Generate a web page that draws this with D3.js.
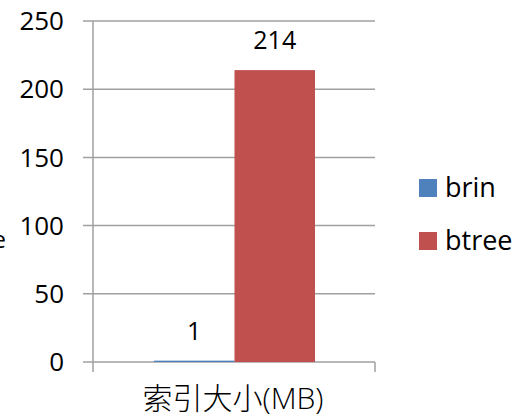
<!DOCTYPE html>
<html>
<head>
<meta charset="utf-8">
<script src="https://cdn.jsdelivr.net/npm/d3@7"></script>
<style>
  body { margin: 0; background: #fff; }
  text { font-family: "Open Sans", "Noto Sans CJK SC", sans-serif; fill: #000; }
</style>
</head>
<body>
<svg id="chart"></svg>
<script>
const categories = ["索引大小(MB)"];
const seriesNames = ["brin", "btree"];
const brinValues = [1];
const btreeValues = [214];
const yTicks = [0, 50, 100, 150, 200, 250];
const colors = ["#4F81BD", "#C0504D"];

const width = 516, height = 419;
const svg = d3.select("#chart").attr("width", width).attr("height", height);

const y = d3.scaleLinear().domain([0, 250]).range([362, 21]);
const x = d3.scaleBand().domain(categories).range([93, 375]);
// bars occupy the middle of the category, gap on each side
const xInner = d3.scaleBand().domain(seriesNames)
  .range([154 - 93, 315 - 93]);

const grid = svg.append("g");
grid.selectAll("line")
  .data(yTicks)
  .enter().append("line")
  .attr("x1", 83).attr("x2", 375)
  .attr("y1", d => y(d)).attr("y2", d => y(d))
  .attr("stroke", "#a0a0a0").attr("stroke-width", 1.5);

// y axis line
svg.append("line")
  .attr("x1", 93).attr("x2", 93).attr("y1", y(250)).attr("y2", 372)
  .attr("stroke", "#a0a0a0").attr("stroke-width", 1.5);
// x category boundary tick
svg.append("line")
  .attr("x1", 375).attr("x2", 375).attr("y1", y(0)).attr("y2", 372)
  .attr("stroke", "#a0a0a0").attr("stroke-width", 1.5);

svg.append("g").selectAll("text")
  .data(yTicks)
  .enter().append("text")
  .attr("x", 64).attr("y", d => y(d))
  .attr("dy", "0.35em")
  .attr("text-anchor", "end")
  .attr("font-size", 26)
  .text(d => d);

const rows = seriesNames.map((s, i) => ({
  name: s,
  value: [brinValues, btreeValues][i][0],
  color: colors[i],
  cat: categories[0]
}));

const bars = svg.append("g");
bars.selectAll("rect")
  .data(rows)
  .enter().append("rect")
  .attr("x", d => x(d.cat) + xInner(d.name))
  .attr("width", xInner.bandwidth())
  .attr("y", d => y(d.value))
  .attr("height", d => y(0) - y(d.value))
  .attr("fill", d => d.color);

bars.selectAll("text")
  .data(rows)
  .enter().append("text")
  .attr("x", d => x(d.cat) + xInner(d.name) + xInner.bandwidth() / 2)
  .attr("y", d => y(d.value) - 21)
  .attr("text-anchor", "middle")
  .attr("font-size", 25)
  .text(d => d.value);

svg.append("text")
  .attr("x", x(categories[0]) + x.bandwidth() / 2 - 1)
  .attr("y", 409)
  .attr("text-anchor", "middle")
  .attr("font-size", 30)
  .attr("font-weight", 300)
  .text(categories[0]);

// y title, mostly cut off at the left edge
svg.append("text")
  .attr("x", 6).attr("y", 248)
  .attr("text-anchor", "end")
  .attr("font-size", 24)
  .text("Size");

const legend = svg.append("g").selectAll("g")
  .data(rows)
  .enter().append("g")
  .attr("transform", (d, i) => `translate(419, ${179 + i * 53})`);
legend.append("rect")
  .attr("width", 18).attr("height", 18)
  .attr("fill", d => d.color);
legend.append("text")
  .attr("x", 26).attr("y", 9).attr("dy", "0.35em")
  .attr("font-size", 27)
  .text(d => d.name);
</script>
</body>
</html>
